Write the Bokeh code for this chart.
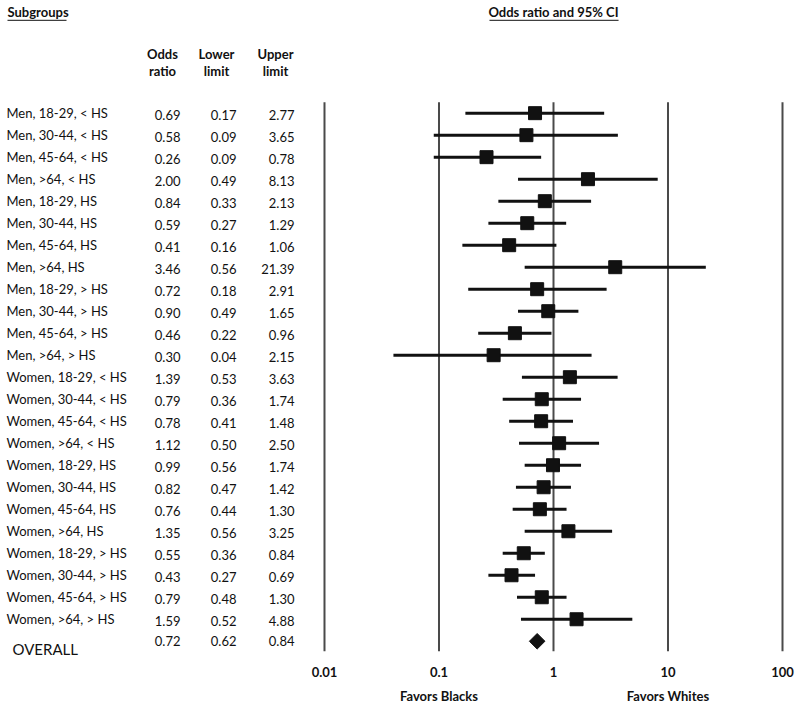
from bokeh.plotting import figure
from bokeh.layouts import row
from bokeh.models import Range1d
from bokeh.embed import file_html
from bokeh.resources import INLINE
from bokeh.core.properties import value

# ---------------- data ----------------
subgroups = [
    "Men, 18-29, < HS", "Men, 30-44, < HS", "Men, 45-64, < HS", "Men, >64, < HS",
    "Men, 18-29, HS", "Men, 30-44, HS", "Men, 45-64, HS", "Men, >64, HS",
    "Men, 18-29, > HS", "Men, 30-44, > HS", "Men, 45-64, > HS", "Men, >64, > HS",
    "Women, 18-29, < HS", "Women, 30-44, < HS", "Women, 45-64, < HS", "Women, >64, < HS",
    "Women, 18-29, HS", "Women, 30-44, HS", "Women, 45-64, HS", "Women, >64, HS",
    "Women, 18-29, > HS", "Women, 30-44, > HS", "Women, 45-64, > HS", "Women, >64, > HS",
]
odds = [0.69, 0.58, 0.26, 2.00, 0.84, 0.59, 0.41, 3.46, 0.72, 0.90, 0.46, 0.30,
        1.39, 0.79, 0.78, 1.12, 0.99, 0.82, 0.76, 1.35, 0.55, 0.43, 0.79, 1.59]
lower = [0.17, 0.09, 0.09, 0.49, 0.33, 0.27, 0.16, 0.56, 0.18, 0.49, 0.22, 0.04,
         0.53, 0.36, 0.41, 0.50, 0.56, 0.47, 0.44, 0.56, 0.36, 0.27, 0.48, 0.52]
upper = [2.77, 3.65, 0.78, 8.13, 2.13, 1.29, 1.06, 21.39, 2.91, 1.65, 0.96, 2.15,
         3.63, 1.74, 1.48, 2.50, 1.74, 1.42, 1.30, 3.25, 0.84, 0.69, 1.30, 4.88]
overall_label = "OVERALL"
overall_odds = [0.72]
overall_lower = [0.62]
overall_upper = [0.84]
tick_values = [0.01, 0.1, 1, 10, 100]
tick_labels = ["0.01", "0.1", "1", "10", "100"]
favors_labels = ["Favors Blacks", "Favors Whites"]
favors_at = [0.1, 10]
col_headers_top = ["Odds", "Lower", "Upper"]
col_headers_bottom = ["ratio", "limit", "limit"]

# ---------------- layout ----------------
FONT = value("Lato")
H = 707
n = len(subgroups)
rows = list(range(n))
overall_row = n
y_range = Range1d(27.01, -5.12)

TXT = "#111111"

# ---- left table figure ----
pl = figure(width=308, height=H, x_range=Range1d(0, 308), y_range=y_range,
            x_axis_type=None, y_axis_type=None, output_backend="svg",
            toolbar_location=None, min_border=0, outline_line_color=None)
pl.xgrid.visible = False
pl.ygrid.visible = False

pl.text(x=[7], y=[-4.58], text=["Subgroups"], text_font=FONT, text_font_size="13px",
        text_font_style="bold", text_align="left", text_baseline="middle", text_color=TXT)
pl.segment(x0=[7], y0=[-4.22], x1=[66], y1=[-4.22], line_color=TXT, line_width=1)

col_x = [180, 236, 294]
col_hx = [162, 216, 275]
pl.text(x=col_hx, y=[-2.67] * 3, text=col_headers_top, text_font=FONT, text_font_size="13px",
        text_font_style="bold", text_align="center", text_baseline="middle", text_color=TXT)
pl.text(x=col_hx, y=[-1.90] * 3, text=col_headers_bottom, text_font=FONT, text_font_size="13px",
        text_font_style="bold", text_align="center", text_baseline="middle", text_color=TXT)

pl.text(x=[6] * n, y=rows, text=subgroups, text_font=FONT, text_font_size="13px",
        text_align="left", text_baseline="middle", text_color=TXT)
for cx, vals, ov in zip(col_x, [odds, lower, upper], [overall_odds, overall_lower, overall_upper]):
    pl.text(x=[cx] * n, y=[r + 0.08 for r in rows], text=[f"{v:.2f}" for v in vals],
            text_font=FONT, text_font_size="13px", text_align="right",
            text_baseline="middle", text_color=TXT)
    pl.text(x=[cx], y=[overall_row], text=[f"{ov[0]:.2f}"], text_font=FONT,
            text_font_size="13px", text_align="right", text_baseline="middle", text_color=TXT)
pl.text(x=[12], y=[overall_row + 0.36], text=[overall_label], text_font=FONT,
        text_font_size="15px", text_align="left", text_baseline="middle", text_color=TXT)

# ---- right forest figure ----
pr = figure(width=492, height=H, x_axis_type="log",
            x_range=Range1d(10 ** -2.1397, 10 ** 2.1572), y_range=y_range,
            output_backend="svg", toolbar_location=None, min_border=0,
            outline_line_color=None)
pr.xaxis.visible = False
pr.yaxis.visible = False
pr.xgrid.visible = False
pr.ygrid.visible = False

pr.text(x=[1], y=[-4.58], text=["Odds ratio and 95% CI"], text_font=FONT,
        text_font_size="13px", text_font_style="bold", text_align="center",
        text_baseline="middle", text_color=TXT)
pr.segment(x0=[0.276], y0=[-4.22], x1=[3.70], y1=[-4.22], line_color=TXT, line_width=1)

pr.segment(x0=tick_values, y0=[-0.5] * 5, x1=tick_values, y1=[24.45] * 5,
           line_color="#4a4a4a", line_width=2)

pr.segment(x0=lower, y0=rows, x1=upper, y1=rows, line_color="#111111", line_width=3)
pr.scatter(x=odds, y=rows, marker="square", size=13, fill_color="#111111",
           line_color="#111111")
pr.scatter(x=overall_odds, y=[overall_row], marker="square", angle=0.7854, size=11,
           fill_color="#111111", line_color="#111111")

pr.text(x=tick_values, y=[25.38] * 5, text=tick_labels, text_font=FONT,
        text_font_size="13px", text_font_style="bold", text_align="center",
        text_baseline="middle", text_color=TXT)
pr.text(x=favors_at, y=[26.51] * 2, text=favors_labels, text_font=FONT,
        text_font_size="13px", text_font_style="bold", text_align="center",
        text_baseline="middle", text_color=TXT)

layout = row(pl, pr)
open("out.html", "w").write(file_html(layout, INLINE))
